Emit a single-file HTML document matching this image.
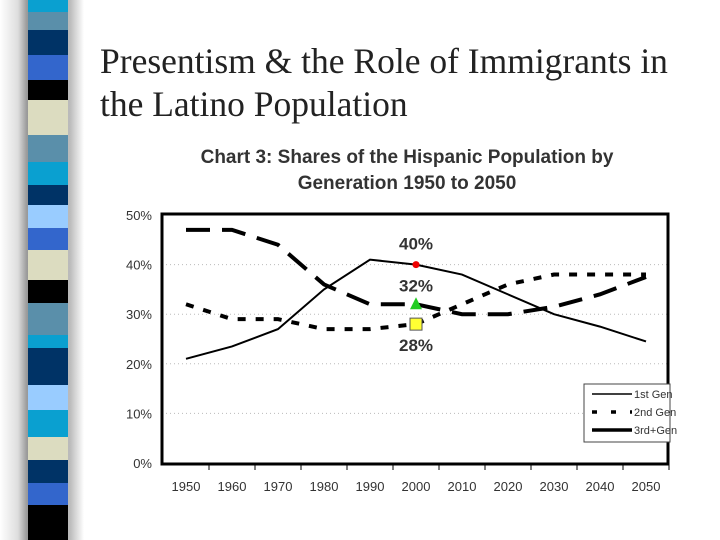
<!DOCTYPE html>
<html><head><meta charset="utf-8"><style>
html,body{margin:0;padding:0;width:720px;height:540px;background:#fff;overflow:hidden;position:relative}
.s{position:absolute;left:28px;width:40px}
#title{position:absolute;left:100px;top:40px;font-family:"Liberation Serif",serif;font-size:35.5px;line-height:43px;color:#222;white-space:nowrap}
</style></head><body>
<div id="bar" style="position:absolute;left:0;top:0;width:84px;height:540px;background:linear-gradient(90deg,#fff 0,#ddd 18px,#999 27px,#bbb 70px,#fff 84px)"></div>
<div id="title">Presentism &amp; the Role of Immigrants in<br>the Latino Population</div>
<svg id="chart" width="720" height="540" style="position:absolute;left:0;top:0" font-family="Liberation Sans, sans-serif"></svg>
<script>
const stripeColors=['#0aa0d0','#5a8faa','#003366','#3366cc','#000','#dcdcc0','#5a8faa','#0aa0d0','#003366','#99ccff','#3366cc','#dcdcc0','#000','#5a8faa','#0aa0d0','#003366','#99ccff','#0aa0d0','#dcdcc0','#003366','#3366cc','#000'];
const stripeEdges=[0,12,30,55,80,100,135,162,185,205,228,250,280,303,335,348,385,410,437,460,483,505,540];
const bar=document.getElementById('bar');
stripeColors.forEach((c,i)=>{const d=document.createElement('div');d.className='s';


d.style.top=stripeEdges[i]+'px';d.style.height=(stripeEdges[i+1]-stripeEdges[i])+'px';d.style.background=c;bar.appendChild(d);});

const years=[1950,1960,1970,1980,1990,2000,2010,2020,2030,2040,2050];
const gen1=[21,23.5,27,35,41,40,38,34,30,27.5,24.5];
const gen2=[32,29,29,27,27,28,32,36,38,38,38];
const gen3=[47,47,44,36,32,32,30,30,31.5,34,37.5];
const yTicks=[0,10,20,30,40,50];
const NS='http://www.w3.org/2000/svg';
const svg=document.getElementById('chart');
const X=i=>186+i*46, Y=v=>463-v*4.96;
function el(t,a){const e=document.createElementNS(NS,t);for(const k in a)e.setAttribute(k,a[k]);svg.appendChild(e);return e;}
let t;
t=el('text',{x:407,y:163,'text-anchor':'middle','font-size':19,'font-weight':'bold',fill:'#333'});t.textContent='Chart 3: Shares of the Hispanic Population by';

t=el('text',{x:407,y:189,'text-anchor':'middle','font-size':19,'font-weight':'bold',fill:'#333'});t.textContent='Generation 1950 to 2050';

yTicks.forEach(v=>{
 if(v>0&&v<50){const g=el('line',{x1:162,x2:668,y1:Y(v),y2:Y(v),stroke:'#bbb','stroke-dasharray':'1 3'});}
 const l=el('text',{x:152,y:Y(v)+5,'text-anchor':'end','font-size':13,fill:'#333'});l.textContent=v+'%';
 
});
years.forEach((yr,i)=>{
 const tk=el('line',{x1:X(i)+23,x2:X(i)+23,y1:464,y2:470,stroke:'#000'});
 const l=el('text',{x:X(i),y:491,'text-anchor':'middle','font-size':13,fill:'#333'});l.textContent=yr;
 
});
const fr=el('rect',{x:162,y:214,width:506,height:250,fill:'none',stroke:'#000','stroke-width':3});

function line(d,dash,w,name){const p=el('polyline',{points:d.map((v,i)=>X(i)+','+Y(v)).join(' '),fill:'none',stroke:'#000','stroke-width':w,'stroke-dasharray':dash});
}
line(gen1,'none',2,'line-1st-gen');
line(gen2,'8 10',4,'line-2nd-gen');
line(gen3,'24 12',4,'line-3rd-gen');
let m=el('circle',{cx:X(5),cy:Y(gen1[5]),r:3.5,fill:'#e00'});
m=el('polygon',{points:`${X(5)},${Y(gen3[5])-7} ${X(5)-6},${Y(gen3[5])+5} ${X(5)+6},${Y(gen3[5])+5}`,fill:'#2c2'});
m=el('rect',{x:X(5)-6,y:Y(gen2[5])-6,width:12,height:12,fill:'#ff3',stroke:'#555'});
[[gen1[5],Y(gen1[5])-15],[gen3[5],Y(gen3[5])-13],[gen2[5],Y(gen2[5])+27]].forEach(([v,y])=>{
 const l=el('text',{x:X(5),y:y,'text-anchor':'middle','font-size':17,'font-weight':'bold',fill:'#333'});l.textContent=v+'%';
 });
const lg=el('rect',{x:584,y:384,width:86,height:58,fill:'#fff',stroke:'#444'});
[['1st Gen','none',1.5],['2nd Gen','5 14',3.5],['3rd+Gen','none',3.5]].forEach((e,i)=>{
 const y=394+i*18;
 const ln=el('line',{x1:592,x2:632,y1:y,y2:y,stroke:'#000','stroke-width':e[2],'stroke-dasharray':e[1]});
 const l=el('text',{x:634,y:y+4,'font-size':11,fill:'#333'});l.textContent=e[0];
});
</script>
</body></html>
